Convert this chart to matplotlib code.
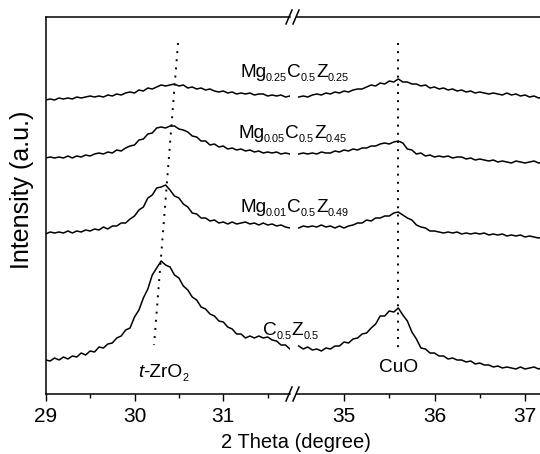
import numpy as np
import matplotlib
matplotlib.use('Agg')
from matplotlib import pyplot as plt
from matplotlib.lines import Line2D

plt.rcParams['font.family'] = ['Liberation Sans', 'DejaVu Sans']
plt.rcParams['mathtext.fontset'] = 'custom'
plt.rcParams['mathtext.rm'] = 'Liberation Sans'
plt.rcParams['mathtext.it'] = 'Liberation Sans:italic'

# 2 theta grids (0.05 deg steps) for the two sides of the axis break
theta_low = np.round(np.arange(29.0, 31.751, 0.05), 2)
theta_high = np.round(np.arange(34.5, 37.201, 0.05), 2)

# intensities (a.u., curves already offset)
c05z05_low = [34, 33, 36, 34, 37, 35, 38, 37, 41, 39, 43, 42, 47, 46, 50, 51, 56, 58, 64, 66,
              77, 84, 96, 105, 119, 126, 133, 129, 127, 119, 116, 108, 104, 97, 94, 87, 85, 80, 78, 73,
              72, 67, 65, 60, 60, 56, 58, 56, 58, 56, 57, 54, 53, 49, 49, 45]
c05z05_high = [48, 45, 47, 44, 45, 43, 46, 45, 48, 48, 52, 51, 55, 56, 60, 61, 66, 70, 78, 78,
               83, 82, 86, 79, 73, 62, 55, 46, 45, 41, 41, 38, 38, 35, 36, 34, 34, 32, 33, 30,
               31, 29, 29, 27, 28, 26, 27, 26, 25, 27, 25, 26, 27, 25, 27]

mg001_low = [160, 162, 161, 162, 161, 163, 161, 163, 162, 164, 163, 165, 164, 167, 165, 168, 168, 171, 171, 175,
             178, 184, 187, 196, 199, 206, 207, 209, 204, 198, 196, 190, 187, 181, 180, 176, 176, 173, 174, 171,
             172, 170, 172, 170, 171, 172, 170, 171, 169, 171, 169, 170, 168, 169, 167, 166]
mg001_high = [166, 168, 167, 168, 167, 169, 167, 168, 166, 168, 166, 168, 169, 171, 171, 174, 173, 176, 176, 178,
              178, 181, 182, 179, 176, 174, 169, 167, 166, 163, 163, 162, 161, 162, 161, 162, 160, 161, 160, 161,
              160, 161, 159, 160, 159, 160, 158, 159, 158, 159, 157, 158, 157, 156, 157]

mg005_low = [236, 237, 236, 237, 236, 238, 236, 238, 237, 239, 238, 240, 241, 240, 242, 241, 244, 243, 246, 248,
             249, 254, 255, 260, 261, 266, 267, 266, 268, 268, 265, 264, 262, 258, 257, 253, 253, 249, 250, 247,
             248, 245, 246, 244, 245, 243, 244, 242, 243, 241, 242, 241, 242, 240, 241, 240]
mg005_high = [240, 241, 240, 241, 240, 242, 241, 241, 243, 242, 244, 243, 245, 244, 246, 246, 248, 248, 250, 251,
              250, 252, 253, 251, 245, 244, 240, 241, 238, 239, 237, 238, 237, 238, 236, 237, 237, 235, 236, 234,
              235, 234, 233, 234, 232, 233, 232, 231, 233, 232, 231, 232, 233, 231, 232]

mg025_low = [294, 295, 294, 296, 295, 296, 295, 297, 296, 297, 298, 297, 298, 297, 299, 298, 300, 299, 301, 302,
             301, 304, 303, 306, 305, 307, 309, 308, 309, 310, 308, 309, 306, 307, 305, 306, 304, 305, 303, 302,
             303, 301, 302, 300, 301, 300, 301, 299, 300, 300, 298, 299, 298, 299, 297, 298]
mg025_high = [297, 298, 297, 299, 300, 299, 301, 300, 302, 301, 303, 302, 304, 305, 305, 307, 309, 308, 311, 310,
              313, 312, 315, 312, 312, 310, 310, 308, 309, 306, 307, 305, 306, 304, 305, 303, 304, 302, 303, 301,
              302, 301, 300, 301, 300, 299, 301, 299, 300, 298, 299, 297, 298, 296, 297]

# sample labels as (text, kind) pieces: n = normal, s = subscript, i = italic
labels = [
    [('Mg', 'n'), ('0.25', 's'), ('C', 'n'), ('0.5', 's'), ('Z', 'n'), ('0.25', 's')],
    [('Mg', 'n'), ('0.05', 's'), ('C', 'n'), ('0.5', 's'), ('Z', 'n'), ('0.45', 's')],
    [('Mg', 'n'), ('0.01', 's'), ('C', 'n'), ('0.5', 's'), ('Z', 'n'), ('0.49', 's')],
    [('C', 'n'), ('0.5', 's'), ('Z', 'n'), ('0.5', 's')],
]
lows = [mg025_low, mg005_low, mg001_low, c05z05_low]
highs = [mg025_high, mg005_high, mg001_high, c05z05_high]

# reference markers (dotted guide lines)
zro2_line_x = [30.49, 30.22]
zro2_line_y = [351, 49]
cuo_line_x = [35.6, 35.6]
cuo_line_y = [351, 41]

W, H = 540, 454
fig = plt.figure(figsize=(W / 100, H / 100), dpi=100)
renderer = fig.canvas.get_renderer()

def fx(px):
    return px / W

def fy(py):
    return 1 - py / H

def piece_text(x, y, parts, size=13.7, sub_size=7.8, drop=4):
    # draws text pieces one after another, subscripts smaller and lower
    for s, kind in parts:
        t = fig.text(fx(x), fy(y + (drop if kind == 's' else 0)), s,
                     fontsize=sub_size if kind == 's' else size,
                     style='italic' if kind == 'i' else 'normal',
                     ha='left', va='baseline')
        x = t.get_window_extent(renderer).x1

ax1 = fig.add_axes([fx(45.7), fy(394), fx(290 - 45.7), fy(17) - fy(394)])
ax2 = fig.add_axes([fx(297), fy(394), fx(W - 297), fy(17) - fy(394)])

for lo, hi in zip(lows, highs):
    ax1.plot(theta_low, lo, color='black', lw=1.1)
    ax2.plot(theta_high, hi, color='black', lw=1.1)

ax1.plot(zro2_line_x, zro2_line_y, color='black', lw=1.4, ls=(0, (1, 3.2)))
ax2.plot(cuo_line_x, cuo_line_y, color='black', lw=1.4, ls=(0, (1, 3.2)))

ax1.set_xlim(29, 29 + (290 - 45.7) / 88.8)
ax2.set_xlim(35 - (344 - 297) / 90.5, 35 + (W - 344) / 90.5)
for ax in (ax1, ax2):
    ax.set_ylim(0, 377)
    ax.set_yticks([])
    ax.spines['right'].set_visible(False)
    ax.tick_params(axis='x', which='major', direction='out', length=5, width=1, labelsize=15, pad=4)
    ax.tick_params(axis='x', which='minor', direction='out', length=3, width=1)
    for s in ax.spines.values():
        s.set_linewidth(1.1)
ax2.spines['left'].set_visible(False)
ax1.set_xticks([29, 30, 31])
ax1.set_xticks([29.5, 30.5, 31.5], minor=True)
ax2.set_xticks([35, 36, 37])
ax2.set_xticks([35.5, 36.5], minor=True)

# axis break marks
for py in (17, 394):
    for px in (289, 296):
        fig.add_artist(Line2D([fx(px - 3), fx(px + 3)], [fy(py + 7), fy(py - 7)],
                              color='black', lw=1.1))

label_pos = [(240, 77), (238, 138), (240, 212), (263, 335)]
for parts, (px, py) in zip(labels, label_pos):
    piece_text(px, py, parts)

piece_text(138, 377, [('t', 'i'), ('-ZrO', 'n'), ('2', 's')])
piece_text(379, 372, [('CuO', 'n')])

fig.text(fx(296), fy(442), '2 Theta (degree)', fontsize=14.5, ha='center', va='center')
fig.text(fx(22), fy(190), 'Intensity (a.u.)', fontsize=18, ha='center', va='center', rotation=90)

fig.savefig('out.png', dpi=100)
